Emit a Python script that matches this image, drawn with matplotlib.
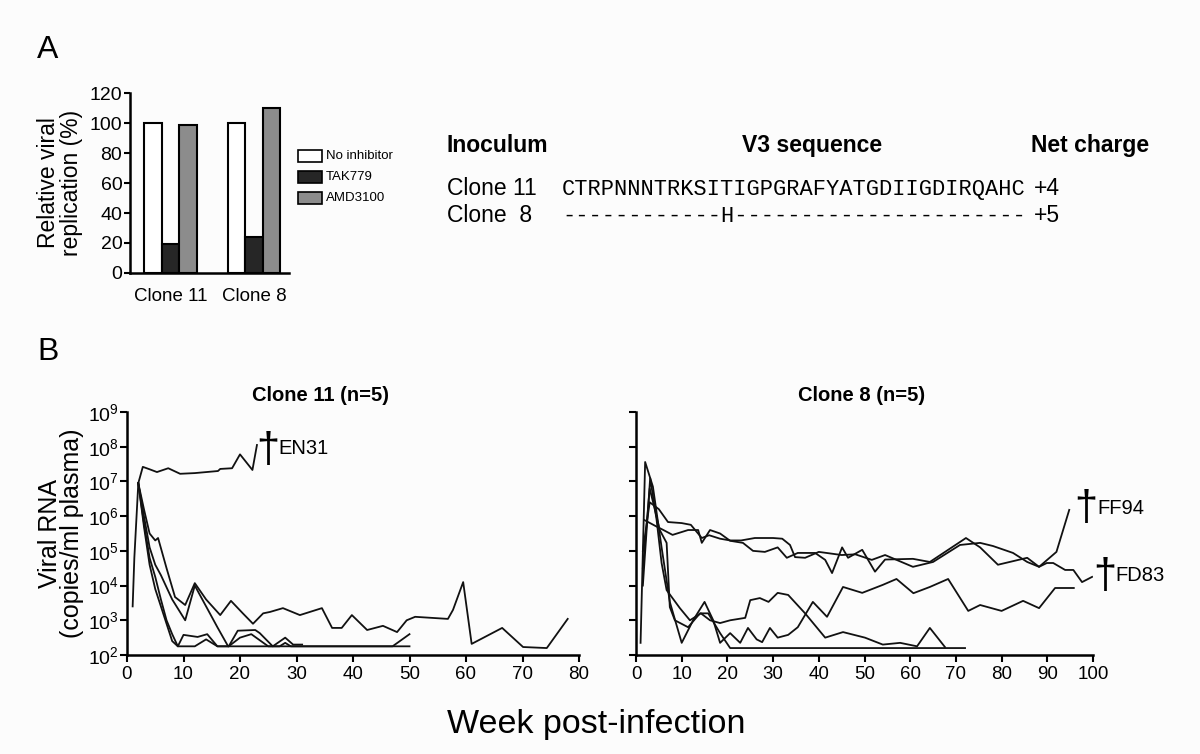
import numpy as np
import matplotlib
matplotlib.use('Agg')
import matplotlib.pyplot as plt
from matplotlib.patches import Rectangle

plt.rcParams['font.family'] = ['Liberation Sans', 'DejaVu Sans']
plt.rcParams['mathtext.fontset'] = 'custom'
plt.rcParams['mathtext.rm'] = 'Liberation Sans'

# --- panel A data ---
clones = ['Clone 11', 'Clone 8']
no_inhibitor = [100, 100]
tak779 = [19, 24]
amd3100 = [98.5, 110]
bar_labels = ['No inhibitor', 'TAK779', 'AMD3100']
bar_colors = ['white', '#262626', '#8c8c8c']

seq_clone11 = 'CTRPNNNTRKSITIGPGRAFYATGDIIGDIRQAHC'
seq_clone8 = '------------H----------------------'
charges = ['+4', '+5']

# --- panel B data (log10 copies/ml) ---
# clone 11
en31_wk = [1, 1.3, 2, 2.8, 4, 5.3, 7.3, 9.4, 12, 16.1, 16.5, 18.6, 20, 22.2, 23]
en31_lg = [3.4, 4.8, 6.95, 7.42, 7.35, 7.27, 7.38, 7.22, 7.24, 7.3, 7.36, 7.38, 7.78, 7.33, 8.05]

c11a_wk = [2, 3, 4, 5, 5.5, 7, 8.5, 10.3, 12, 14, 16.5, 18.4, 20.5, 22.3, 24.1, 25.3, 27.6, 30.6,
           34.5, 36.3, 38, 39.8, 42.5, 45.3, 47.8, 49.5, 51, 56.8, 57.7, 59.5, 61, 66.4, 70.1, 74.3, 78]
c11a_lg = [6.95, 6.2, 5.5, 5.3, 5.37, 4.5, 3.67, 3.44, 4.07, 3.6, 3.15, 3.56, 3.2, 2.9, 3.2, 3.24, 3.35, 3.15,
           3.35, 2.78, 2.78, 3.15, 2.72, 2.84, 2.66, 3.0, 3.1, 3.04, 3.3, 4.1, 2.32, 2.78, 2.23, 2.2, 3.04]

c11b_wk = [2, 3, 4, 5, 6, 8, 10.3, 12, 14, 16, 17.9, 22, 30, 40, 50]
c11b_lg = [6.95, 6.0, 5.1, 4.6, 4.3, 3.6, 3.0, 4.0, 3.4, 2.8, 2.25, 2.25, 2.25, 2.25, 2.25]

c11c_wk = [2, 3, 4, 5, 6, 7, 8, 9, 10, 12.5, 14.2, 16, 18, 19.6, 22.7, 23.5, 25.8, 28, 29.4, 31]
c11c_lg = [6.95, 5.8, 4.8, 4.25, 3.6, 3.0, 2.6, 2.25, 2.58, 2.52, 2.6, 2.25, 2.25, 2.7, 2.72, 2.63, 2.25, 2.5, 2.3, 2.3]

c11d_wk = [2, 3, 4, 5, 6, 7, 8, 9, 12, 14, 16, 18, 20, 22, 25, 27, 28, 29, 31, 40, 47, 50]
c11d_lg = [6.95, 5.7, 4.6, 3.9, 3.4, 2.9, 2.4, 2.25, 2.25, 2.45, 2.25, 2.25, 2.5, 2.6, 2.25, 2.25, 2.35, 2.25,
           2.25, 2.25, 2.25, 2.6]

# clone 8
c8m_wk = [1, 2, 3.7, 5.6, 7.4, 10, 12.5, 15, 16.9, 18.4, 20.6, 22.8, 24.5, 26.4, 27.6, 29.3, 31, 33.3, 35.4,
          38.7, 41.8, 45.3, 49.5, 54, 57, 60.7, 64.3, 68.3, 72.7, 75.3, 80, 84.7, 88.2, 91.7, 95.8]
c8m_lg = [2.35, 7.56, 6.85, 5.1, 3.53, 2.35, 3.0, 3.53, 3.0, 2.35, 2.63, 2.35, 2.78, 2.45, 2.37, 2.78, 2.5, 2.58, 2.8,
          3.53, 3.1, 3.96, 3.79, 4.02, 4.19, 3.78, 3.96, 4.19, 3.27, 3.44, 3.27, 3.56, 3.35, 3.93, 3.93]

c8l2_wk = [1.5, 3.1, 4.5, 5.6, 6.7, 9.6, 11.8, 14.2, 16.2, 18.4, 20.6, 23.9, 25, 27.1, 29, 31, 33.3, 37,
           41.4, 45.3, 50.1, 54, 57.8, 61.5, 64.3, 67.6]
c8l2_lg = [4.0, 7.1, 5.9, 4.65, 3.87, 3.35, 3.0, 3.2, 3.0, 2.92, 3.0, 3.07, 3.58, 3.64, 3.53, 3.79, 3.73, 3.2,
           2.5, 2.66, 2.5, 2.3, 2.35, 2.25, 2.78, 2.23]

c8l1_wk = [1.5, 3, 5.2, 6.7, 7.4, 8.5, 11.4, 14, 15.8, 18.4, 20.6, 30, 40, 50, 60, 72]
c8l1_lg = [4.5, 6.8, 5.6, 5.23, 3.38, 3.0, 2.8, 3.2, 3.2, 2.63, 2.2, 2.2, 2.2, 2.2, 2.2, 2.2]

ff94_wk = [1.5, 3, 5, 7, 10, 12, 14.4, 16, 18.4, 20.6, 23, 26, 30, 32, 33.7, 34.8, 37, 40, 45, 48, 51.6,
           54.5, 60.6, 65, 70.9, 75.3, 78.1, 82.5, 85.6, 88.2, 92, 94.8]
ff94_lg = [5.0, 6.4, 6.2, 5.83, 5.8, 5.75, 5.37, 5.45, 5.35, 5.3, 5.3, 5.37, 5.37, 5.35, 5.17, 4.82, 4.8, 4.97,
           4.88, 4.9, 4.74, 4.88, 4.54, 4.68, 5.17, 5.23, 5.14, 4.94, 4.68, 4.54, 4.97, 6.18]

fd83_wk = [1.8, 4.5, 6, 8, 11.4, 13.6, 14.4, 16.2, 18.4, 20.6, 23.4, 25.6, 28.2, 31, 33, 35.4, 39.2, 41.4,
           42.9, 45.1, 46.4, 49.5, 52.3, 54.5, 60.6, 64.3, 72.2, 75.3, 79.2, 85.6, 88.2, 89.9, 91.3, 93.9,
           95.7, 97.6, 99.8]
fd83_lg = [5.89, 5.7, 5.6, 5.46, 5.6, 5.6, 5.23, 5.6, 5.5, 5.29, 5.23, 5.0, 4.97, 5.1, 4.8, 4.94, 4.94, 4.74,
           4.36, 5.1, 4.8, 5.03, 4.4, 4.75, 4.77, 4.68, 5.37, 5.1, 4.6, 4.8, 4.54, 4.65, 4.65, 4.45,
           4.45, 4.1, 4.25]

clone11_series = [(en31_wk, en31_lg), (c11a_wk, c11a_lg), (c11b_wk, c11b_lg),
                  (c11c_wk, c11c_lg), (c11d_wk, c11d_lg)]
clone8_series = [(c8m_wk, c8m_lg), (c8l2_wk, c8l2_lg), (c8l1_wk, c8l1_lg),
                 (ff94_wk, ff94_lg), (fd83_wk, fd83_lg)]

W, H = 1200, 754
fig = plt.figure(figsize=(12, 7.54), dpi=100, facecolor='#fcfcfc')


def add_ax(x0, y0, x1, y1):
    a = fig.add_axes([x0 / W, 1 - y1 / H, (x1 - x0) / W, (y1 - y0) / H])
    a.set_facecolor('none')
    return a


def ftext(x, y, s, **kw):
    return fig.text(x / W, 1 - y / H, s, **kw)


# ---------------- panel A: bars ----------------
ax = add_ax(130, 93, 289, 273)
x = np.arange(len(clones))
bw = 0.21
for i, vals in enumerate([no_inhibitor, tak779, amd3100]):
    ax.bar(x + (i - 1) * bw, vals, bw, color=bar_colors[i], edgecolor='black', linewidth=1.5)
ax.set_xlim(-0.485, 1.419)
ax.set_ylim(0, 120)
ax.set_yticks(np.arange(0, 121, 20))
ax.set_xticks(x)
ax.set_xticklabels(clones)
for s in ['top', 'right']:
    ax.spines[s].set_visible(False)
for s in ['left', 'bottom']:
    ax.spines[s].set_linewidth(1.8)
ax.tick_params(axis='y', direction='out', length=4, width=1.5, labelsize=14, pad=1.5)
ax.tick_params(axis='x', length=0, labelsize=13.5, pad=11)
ftext(60, 183, 'Relative viral\nreplication (%)', rotation=90, ha='center', va='center',
      fontsize=16.5, linespacing=0.95, multialignment='center')

# legend
for i, lab in enumerate(bar_labels):
    yc = 156 + i * 21
    fig.add_artist(Rectangle((298 / W, 1 - (yc + 6) / H), 24 / W, 12 / H, transform=fig.transFigure,
                             facecolor=bar_colors[i], edgecolor='black', linewidth=1.2))
    ftext(326, yc, lab, ha='left', va='center', fontsize=9.5)

ftext(37, 58, 'A', fontsize=23, va='baseline')
ftext(37, 360, 'B', fontsize=23, va='baseline')

# sequence table
ftext(447, 152, 'Inoculum', fontsize=16.5, fontweight='bold', va='baseline')
ftext(812, 152, 'V3 sequence', fontsize=16.5, fontweight='bold', va='baseline', ha='center')
ftext(1031, 152, 'Net charge', fontsize=16.5, fontweight='bold', va='baseline')
for row, (lab, seq, ch) in enumerate(zip(['Clone 11', 'Clone  8'], [seq_clone11, seq_clone8], charges)):
    yb = 195 + row * 27
    ftext(447, yb, lab, fontsize=16.5, va='baseline')
    ftext(562, yb, seq, fontsize=15.8, va='baseline', family='Liberation Mono')
    ftext(1034, yb, ch, fontsize=16.5, va='baseline')

# ---------------- panel B ----------------
axL = add_ax(127, 412, 579, 655)
axR = add_ax(636, 412, 1093, 655)

for a, series, xmax in [(axL, clone11_series, 80), (axR, clone8_series, 100)]:
    for wk, lg in series:
        a.plot(wk, 10 ** np.array(lg), color='#111111', linewidth=1.3)
    a.set_yscale('log')
    a.set_ylim(1e2, 1e9)
    a.set_xlim(0, xmax)
    a.set_xticks(np.arange(0, xmax + 1, 10))
    a.set_yticks(10.0 ** np.arange(2, 10))
    a.minorticks_off()
    for s in ['top', 'right']:
        a.spines[s].set_visible(False)
    for s in ['left', 'bottom']:
        a.spines[s].set_linewidth(1.8)
    a.tick_params(direction='out', length=5, width=1.5, labelsize=13.5, pad=3)

axL.set_yticklabels([r'$\mathregular{10^{%d}}$' % k for k in range(2, 10)], fontsize=14)
axL.tick_params(axis='y', pad=1)
axR.set_yticklabels([])

ftext(320, 401, 'Clone 11 (n=5)', fontsize=14.5, fontweight='bold', ha='center', va='baseline')
ftext(862, 401, 'Clone 8 (n=5)', fontsize=14.5, fontweight='bold', ha='center', va='baseline')

# death marks
dag = dict(ha='center', va='center', fontsize=30, family='Liberation Sans', clip_on=False)
axL.text(25, 10 ** 7.88, '\u2020', **dag)
axL.text(26.8, 10 ** 7.95, 'EN31', fontsize=14.5, ha='left', va='center')
axR.text(98.5, 10 ** 6.2, '\u2020', **dag)
axR.text(101, 10 ** 6.22, 'FF94', fontsize=14.5, ha='left', va='center', clip_on=False)
axR.text(102.5, 10 ** 4.25, '\u2020', **dag)
axR.text(105, 10 ** 4.28, 'FD83', fontsize=14.5, ha='left', va='center', clip_on=False)

ftext(61, 533, 'Viral RNA\n(copies/ml plasma)', rotation=90, ha='center', va='center',
      fontsize=18, linespacing=0.9, multialignment='center')
ftext(596, 724, 'Week post-infection', fontsize=24.5, ha='center', va='center')

fig.savefig('out.png', dpi=100, facecolor=fig.get_facecolor())
